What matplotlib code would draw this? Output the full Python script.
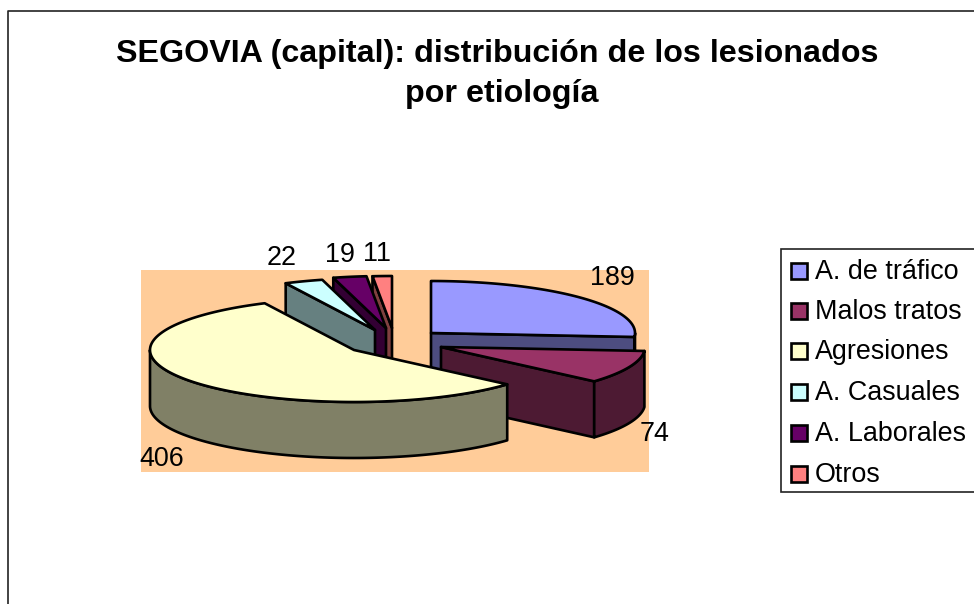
#!/usr/bin/env python3
# -*- coding: utf-8 -*-
import numpy as np
import matplotlib
matplotlib.use('Agg')
import matplotlib.pyplot as plt
from matplotlib.patches import Rectangle, Polygon

# Data
categories = ['A. de tráfico', 'Malos tratos', 'Agresiones', 'A. Casuales', 'A. Laborales', 'Otros']
values = [189, 74, 406, 22, 19, 11]

plt.rcParams['font.family'] = ['Liberation Sans', 'DejaVu Sans']

top_colors = ['#9999FF', '#993366', '#FFFFCC', '#CCFFFF', '#660066', '#FF8080']
side_colors = ['#4D4D80', '#4D1A33', '#808066', '#668080', '#330033', '#804040']

# pie layout, in pixels
apex = [(431, 333), (441, 347), (354, 350), (375, 330), (386, 328), (392, 328)]
label_pos = [(612, 278), (655, 434), (162, 459), (282, 258), (340, 255), (377, 254)]
draw_order = [0, 5, 4, 3, 1, 2]
RX, RY = 204, 52
DEPTH = 56
LW = 1.9

fig = plt.figure(figsize=(9.74, 6.04), dpi=100, facecolor='white')
ax = fig.add_axes([0, 0, 1, 1])
ax.set_xlim(0, 974)
ax.set_ylim(604, 0)
ax.axis('off')


def rim(cx, cy, a, b):
    # a, b in degrees, clockwise from 12 o'clock
    t = np.radians(np.linspace(a, b, max(int(abs(b - a) * 2), 2)))
    return np.column_stack([cx + RX * np.sin(t), cy - RY * np.cos(t)])


def add_poly(pts, color, z):
    ax.add_patch(Polygon(pts, closed=True, facecolor=color, edgecolor='black',
                         linewidth=LW, joinstyle='round', zorder=z))


def wall(pts, color, z):
    low = pts[::-1] + [0, DEPTH]
    add_poly(np.vstack([pts, low]), color, z)


# chart frame and plot background
ax.plot([8, 8, 974], [604, 11, 11], color='#222222', lw=1.2, zorder=1)
ax.add_patch(Rectangle((141, 270), 508, 202, facecolor='#FFCC99', edgecolor='none', zorder=1))

# slices
angles = np.cumsum([0] + values) / sum(values) * 360
for n, i in enumerate(draw_order):
    z = 2 + n
    cx, cy = apex[i]
    a, b = angles[i], angles[i + 1]
    c = np.array([cx, cy], dtype=float)
    if np.cos(np.radians(a - 90)) < 0:
        wall(np.vstack([c, rim(cx, cy, a, a)[:1]]), side_colors[i], z)
    if np.cos(np.radians(b + 90)) < 0:
        wall(np.vstack([c, rim(cx, cy, b, b)[:1]]), side_colors[i], z)
    lo, hi = max(a, 90), min(b, 270)
    if hi > lo:
        wall(rim(cx, cy, lo, hi), side_colors[i], z)
    add_poly(np.vstack([c, rim(cx, cy, a, b)]), top_colors[i], z)

# data labels
for v, (x, y) in zip(values, label_pos):
    ax.text(x, y, str(v), fontsize=19.4, ha='center', va='center', color='black', zorder=20)

# title
ax.text(497, 54, 'SEGOVIA (capital): distribución de los lesionados', fontsize=23.2,
        fontweight='bold', ha='center', va='center', zorder=20)
ax.text(502, 94, 'por etiología', fontsize=23.2, fontweight='bold',
        ha='center', va='center', zorder=20)

# legend
ax.add_patch(Rectangle((781, 249), 200, 243, facecolor='white', edgecolor='#222222',
                       linewidth=1.2, zorder=10))
legend_y = [272, 312, 352, 393, 434, 475]
for name, col, y in zip(categories, top_colors, legend_y):
    ax.add_patch(Rectangle((791, y - 9), 16, 16, facecolor=col, edgecolor='black',
                           linewidth=LW, zorder=11))
    ax.text(815, y, name, fontsize=19.4, ha='left', va='center', zorder=11)

fig.savefig('out.png', dpi=100, facecolor='white')
plt.close(fig)
